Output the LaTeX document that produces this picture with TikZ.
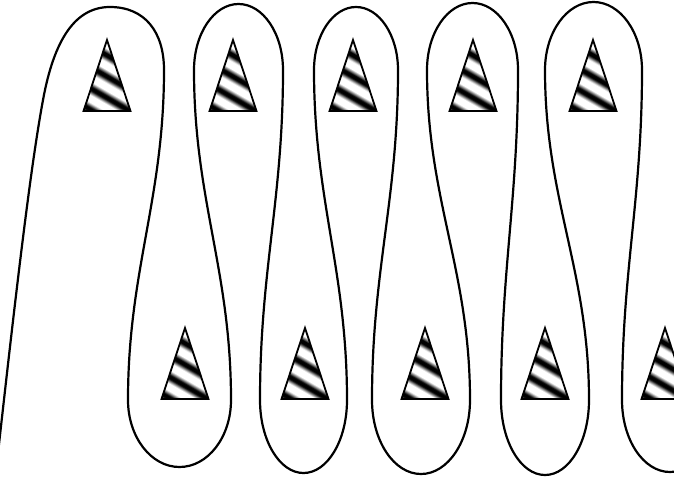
\documentclass[tikz,border=0pt]{standalone}
\usepackage{tikz}

% soft black/white stripes for the cones
\pgfdeclarehorizontalshading{stripes}{100bp}{color(0bp)=(white); color(2bp)=(white);
  color(4.5bp)=(black); color(6.5bp)=(black); color(9bp)=(white); color(13bp)=(white);
  color(15.5bp)=(black); color(17.5bp)=(black); color(20bp)=(white); color(24bp)=(white);
  color(26.5bp)=(black); color(28.5bp)=(black); color(31bp)=(white); color(35bp)=(white);
  color(37.5bp)=(black); color(39.5bp)=(black); color(42bp)=(white); color(46bp)=(white);
  color(48.5bp)=(black); color(50.5bp)=(black); color(53bp)=(white); color(57bp)=(white);
  color(59.5bp)=(black); color(61.5bp)=(black); color(64bp)=(white); color(68bp)=(white);
  color(70.5bp)=(black); color(72.5bp)=(black); color(75bp)=(white); color(79bp)=(white);
  color(81.5bp)=(black); color(83.5bp)=(black); color(86bp)=(white); color(90bp)=(white);
  color(92.5bp)=(black); color(94.5bp)=(black); color(97bp)=(white); color(100bp)=(white)}

\begin{document}
\begin{tikzpicture}[
    x=1pt, y=-1pt,
    snake/.style={draw, line width=2.2pt, line join=round},
    cone/.style={draw, line width=1.8pt, line join=miter},
]
\useasboundingbox (0,0) rectangle (674,477);
\clip (0,0) rectangle (674,477);

% striped cones, top row then bottom row
\foreach \xa/\ya in {107/40, 233/40, 353/40, 473/40, 593/40,
                     185/328, 305/328, 425/328, 545/328, 665/328} {
  \begin{scope}
    \clip (\xa,\ya) -- (\xa+23.5,\ya+71) -- (\xa-23.5,\ya+71) -- cycle;
    \shade[shading=stripes, shading angle=60] (\xa-42,\ya-6.5) rectangle (\xa+42,\ya+77.5);
  \end{scope}
  \draw[cone] (\xa,\ya) -- (\xa+23.5,\ya+71) -- (\xa-23.5,\ya+71) -- cycle;
}

% the winding line: first (wide) top loop, then bottom/top loop pairs
\draw[snake] (-5,480) .. controls (15,300) and (30,170) .. (43,100)
  .. controls (54,40) and (75,7) .. (110,7)
  .. controls (145,7) and (164,32) .. (164,70)
  \foreach \bl/\br/\bb/\tl/\tr/\tt in {128/231/467/194/283/4, 260/347/473/314/398/7,
                                      372/470/474/427/518/3, 501/589/475/545/642/2} {
    .. controls +(0,130) and +(0,-130) .. (\bl,400)
    arc[start angle=180, end angle=0, x radius={(\br-\bl)/2}, y radius={\bb-400}]
    .. controls +(0,-130) and +(0,130) .. (\tl,70)
    arc[start angle=180, end angle=360, x radius={(\tr-\tl)/2}, y radius={70-\tt}]
  }
  .. controls +(0,130) and +(0,-130) .. (622,400)
  arc[start angle=180, end angle=0, x radius=48, y radius=72];

\end{tikzpicture}
\end{document}
